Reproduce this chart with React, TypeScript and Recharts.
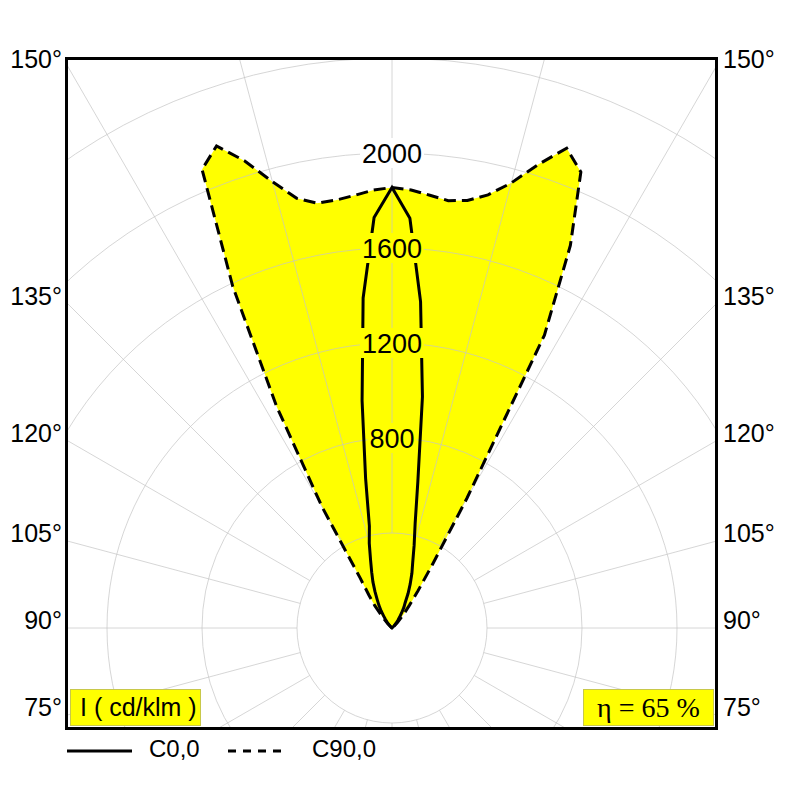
import { RadarChart, Radar, PolarGrid, PolarAngleAxis, PolarRadiusAxis } from "recharts"

// angular offset from the vertical (deg); left half-plane = 180 - o, right = 180 + o
const OFFSETS = [0, 2.5, 5, 7.5, 10, 12.5, 15, 17.5, 20, 22.5, 25, 27.5, 30, 32.5, 35, 37.5, 40, 45, 50, 60, 90]

// luminous intensity, cd/klm
const C0_LEFT = [1855, 1730, 1395, 965, 640, 440, 370, 300, 250, 210, 170, 135, 110, 85, 60, 45, 30, 10, 0, 0, 0]
const C0_RIGHT = [1855, 1727, 1380, 982, 627, 450, 360, 290, 245, 200, 160, 120, 100, 75, 55, 40, 25, 10, 0, 0, 0]
const C90_LEFT = [1855, 1845, 1828, 1817, 1816, 1853, 1945, 2062, 2160, 2090, 1586, 1053, 590, 250, 170, 120, 70, 25, 5, 0, 0]
const C90_RIGHT = [1855, 1846, 1829, 1815, 1828, 1868, 1940, 2046, 2150, 2078, 1777, 1390, 632, 316, 190, 120, 80, 30, 10, 0, 0]

const RADIUS_TICKS = [800, 1200, 1600, 2000]
const GRID_STEPS = [400, 800, 1200, 1600, 2000, 2400, 2800, 3200]
const ANGLE_LABELS = [150, 135, 120, 105, 90, 75]
const EFFICIENCY = 65

// frame and polar geometry, page pixels
const FRAME_LEFT = 65
const FRAME_TOP = 57
const FRAME_W = 653
const FRAME_H = 673
const BORDER = 3
const PLOT_W = FRAME_W - 2 * BORDER
const PLOT_H = FRAME_H - 2 * BORDER
const CX = 324
const CY = 568
const MAX_I = 3200
const OUTER = 760
const INNER = (GRID_STEPS[0] * OUTER) / MAX_I
const TAG_TOP = 689

const GRID_ANGLES = Array.from({ length: 24 }, (_, i) => i * 15)

const rows = [
  ...OFFSETS.map((o, i) => ({ gamma: 180 - o, c0: C0_LEFT[i], c90: C90_LEFT[i] })).reverse(),
  ...OFFSETS.slice(1).map((o, i) => ({ gamma: 180 + o, c0: C0_RIGHT[i + 1], c90: C90_RIGHT[i + 1] })),
]

const FONT = '"Liberation Sans", Arial, sans-serif'
const YELLOW = "#ffff00"

const polarProps = {
  width: PLOT_W,
  height: PLOT_H,
  cx: CX,
  cy: CY,
  outerRadius: OUTER,
  startAngle: 270,
  endAngle: -90,
  margin: { top: 0, right: 0, bottom: 0, left: 0 },
}

const layer: React.CSSProperties = { position: "absolute", left: 0, top: 0 }

function RadiusTick(props: any) {
  const { x, y, payload } = props
  if (!RADIUS_TICKS.includes(payload.value)) return <g />
  const bg = payload.value < C90_LEFT[0] ? YELLOW : "#ffffff"
  const w = String(payload.value).length * 15 + 4
  return (
    <g>
      <rect x={x - w / 2} y={y - 15} width={w} height={30} fill={bg} />
      <text x={x} y={y + 1} textAnchor="middle" dominantBaseline="central" fontSize={27} fontFamily={FONT} fill="#000">
        {payload.value}
      </text>
    </g>
  )
}

function angleLabelY(deg: number) {
  const half = CX
  return FRAME_TOP + BORDER + CY - half * Math.tan(((deg - 90) * Math.PI) / 180) - 8
}

const tagStyle: React.CSSProperties = {
  position: "absolute",
  top: TAG_TOP - FRAME_TOP - BORDER,
  width: 131,
  height: 37,
  background: YELLOW,
  border: "1px solid #c8c84a",
  boxSizing: "border-box",
  lineHeight: "35px",
}

export default function App() {
  return (
    <div style={{ position: "absolute", left: 0, top: 0, width: 800, height: 800, background: "#fff", fontFamily: FONT, color: "#000" }}>
      <div
        style={{
          position: "absolute",
          left: FRAME_LEFT,
          top: FRAME_TOP,
          width: FRAME_W,
          height: FRAME_H,
          boxSizing: "border-box",
          border: `${BORDER}px solid #000`,
          overflow: "hidden",
        }}
      >
        <div style={{ position: "relative", width: PLOT_W, height: PLOT_H }}>
          {/* yellow envelope */}
          <div style={layer}>
            <RadarChart {...polarProps} innerRadius={0} data={rows}>
              <PolarAngleAxis dataKey="gamma" type="number" domain={[0, 360]} tick={false} axisLine={false} />
              <PolarRadiusAxis domain={[0, MAX_I]} tick={false} axisLine={false} />
              <Radar dataKey="c90" stroke="none" fill={YELLOW} fillOpacity={1} isAnimationActive={false} />
            </RadarChart>
          </div>
          {/* polar grid, radial lines start at the first ring */}
          <div style={layer}>
            <RadarChart {...polarProps} innerRadius={INNER} data={rows}>
              <PolarGrid
                gridType="circle"
                polarAngles={GRID_ANGLES}
                polarRadius={GRID_STEPS.map((v) => (v * OUTER) / MAX_I)}
                stroke="#c4c4c4"
                strokeOpacity={0.7}
                strokeWidth={1}
              />
            </RadarChart>
          </div>
          {/* curves and intensity labels */}
          <div style={layer}>
            <RadarChart {...polarProps} innerRadius={0} data={rows}>
              <PolarAngleAxis dataKey="gamma" type="number" domain={[0, 360]} tick={false} axisLine={false} />
              <Radar
                dataKey="c90"
                stroke="#000"
                strokeWidth={3}
                strokeDasharray="12 6"
                fill="none"
                fillOpacity={0}
                dot={false}
                isAnimationActive={false}
              />
              <Radar dataKey="c0" stroke="#000" strokeWidth={3} fill="none" fillOpacity={0} dot={false} isAnimationActive={false} />
              <PolarRadiusAxis
                angle={90}
                domain={[0, MAX_I]}
                ticks={RADIUS_TICKS}
                tick={<RadiusTick />}
                axisLine={false}
                tickLine={false}
              />
            </RadarChart>
          </div>
        </div>
        <div style={{ ...tagStyle, left: 2, fontSize: 25, paddingLeft: 9 }}>I ( cd/klm )</div>
        <div
          style={{
            ...tagStyle,
            right: 1,
            fontSize: 28,
            textAlign: "center",
            fontFamily: '"Liberation Serif", "Times New Roman", serif',
          }}
        >
          η = {EFFICIENCY} %
        </div>
      </div>

      {ANGLE_LABELS.map((a) => (
        <div key={`l${a}`}>
          <div style={{ position: "absolute", left: 0, width: 62, textAlign: "right", top: angleLabelY(a) - 15, fontSize: 25, lineHeight: "30px" }}>
            {a}°
          </div>
          <div style={{ position: "absolute", left: 723, top: angleLabelY(a) - 15, fontSize: 25, lineHeight: "30px" }}>{a}°</div>
        </div>
      ))}

      <svg style={{ position: "absolute", left: 0, top: 735 }} width={800} height={30}>
        <line x1={67} x2={132} y1={16} y2={16} stroke="#000" strokeWidth={3} />
        <text x={149} y={13} fontSize={24} fontFamily={FONT} dominantBaseline="central">
          C0,0
        </text>
        <line x1={228} x2={283} y1={16} y2={16} stroke="#000" strokeWidth={3} strokeDasharray="8 7" />
        <text x={312} y={13} fontSize={24} fontFamily={FONT} dominantBaseline="central">
          C90,0
        </text>
      </svg>
    </div>
  )
}
